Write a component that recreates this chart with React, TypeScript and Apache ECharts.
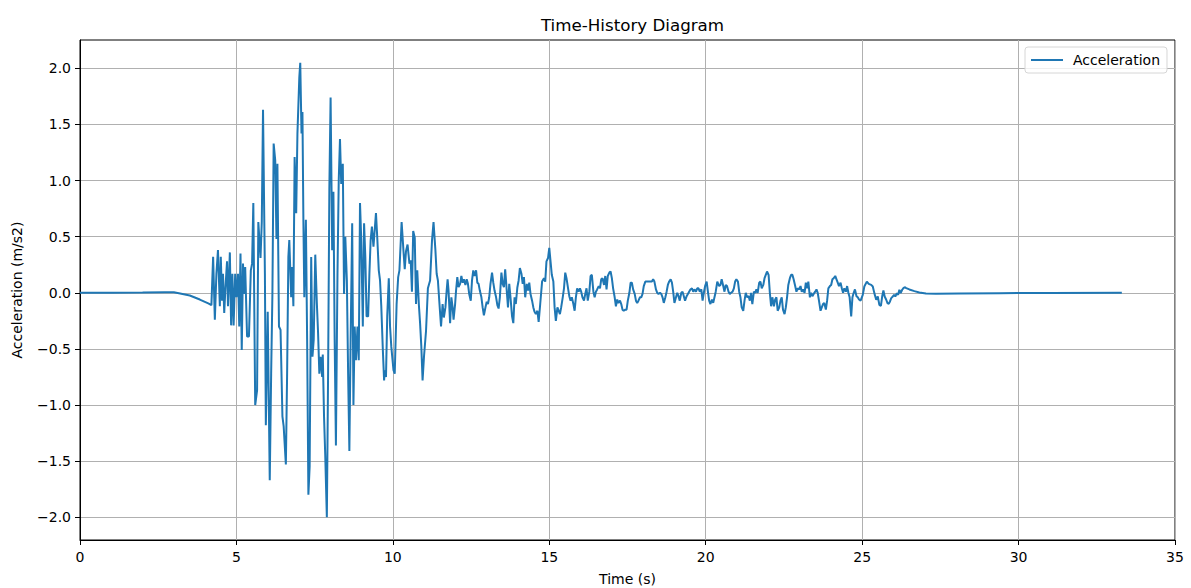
import React, { useEffect, useRef } from "react";
import * as echarts from "echarts";

const seriesName = "Acceleration";
const yTickValues = [-2, -1.5, -1, -0.5, 0, 0.5, 1, 1.5, 2];

const timesA = [
  0, 1.0, 2.0, 2.7, 3.0, 3.2, 3.51, 3.83, 4.1, 4.2, 4.255, 4.31, 4.36, 4.41, 4.47, 4.5, 4.54, 4.57, 4.61, 4.65,
  4.7, 4.73, 4.79, 4.83, 4.87, 4.91, 4.96, 5.0, 5.05, 5.09, 5.13, 5.17, 5.21, 5.24, 5.28, 5.34, 5.4, 5.46, 5.5,
  5.54, 5.6, 5.66, 5.7, 5.77, 5.81, 5.85, 5.91, 5.94, 6.0, 6.065, 6.11, 6.15, 6.19, 6.24, 6.28, 6.31, 6.36, 6.41,
  6.47, 6.51, 6.58, 6.62, 6.66, 6.69, 6.75, 6.78, 6.82, 6.86, 6.91, 6.95, 7.01, 7.04, 7.08, 7.11, 7.14, 7.17,
  7.22, 7.26, 7.3, 7.34, 7.39, 7.43, 7.47, 7.52, 7.57, 7.61, 7.65, 7.69, 7.74, 7.76, 7.8, 7.84, 7.89, 7.93, 7.97,
  8.01, 8.06, 8.1, 8.14, 8.18, 8.23, 8.27, 8.31, 8.35, 8.4, 8.44, 8.48, 8.53, 8.57, 8.61, 8.65, 8.7, 8.74, 8.78,
  8.82, 8.87, 8.91, 8.95, 8.99, 9.04, 9.08, 9.12, 9.16, 9.21, 9.25, 9.29, 9.33, 9.38, 9.42, 9.46, 9.5, 9.55, 9.59,
  9.63, 9.68, 9.72, 9.74, 9.78, 9.82, 9.87, 9.91, 9.95, 10.02, 10.06, 10.12, 10.17, 10.21, 10.28,
];
const accelA = [
  0, 0, 0.003, 0.006, 0.004, -0.006, -0.024, -0.06, -0.095, -0.11, 0.32, -0.24, 0.17, 0.38, -0.12, 0.32, -0.07,
  0.17, -0.18, 0.05, 0.28, -0.12, 0.36, -0.29, 0.17, -0.29, 0.17, -0.04, 0.17, -0.3, 0.35, -0.51, 0.26, -0.01,
  0.23, -0.39, -0.39, 0.2, 0.26, 0.8, -1.0, -0.87, 0.63, 0.31, 0.63, 1.63, 0.17, -1.18, -0.17, -1.67, -0.72,
  -0.01, 1.33, 1.18, 0.48, 1.15, -0.3, -0.33, -1.1, -1.19, -1.53, -0.72, 0.32, 0.47, -0.04, 0.23, -0.12, 1.21,
  0.71, 1.42, 1.92, 2.05, 1.42, 1.61, 0.65, -0.04, 0.65, -0.42, -1.8, -1.55, 0.32, -0.57, -0.42, 0.34, -0.09,
  -0.36, -0.72, -0.57, -0.75, -0.55, -1.1, -1.46, -2.0, -0.72, 0.92, 1.74, 0.38, 0.9, -0.42, -1.36, 0.17, 1.0,
  1.37, 0.97, 1.15, -0.01, 0.5, 0.11, -0.72, -1.41, -0.42, 0.62, -1.0, -0.3, -0.6, -0.3, -0.6, 0.8, 0.47, -0.3,
  0.62, 0.32, -0.21, -0.21, 0.17, 0.47, 0.59, 0.41, 0.56, 0.71, 0.5, 0.2, 0.11, -0.12, -0.51, -0.78, -0.69,
  -0.75, -0.21, 0.13, -0.3, -0.48, -0.69, -0.72, -0.1, 0.14, 0.2, 0.63,
];

const timesB = [
  10.34, 10.38, 10.42, 10.47, 10.53, 10.57, 10.61, 10.65, 10.7, 10.74, 10.78, 10.83, 10.87, 10.91, 10.95, 10.995,
  11.06, 11.12, 11.19, 11.25, 11.3, 11.36, 11.4, 11.44, 11.49, 11.54, 11.59, 11.63, 11.68, 11.72, 11.75, 11.78,
  11.83, 11.87, 11.91, 11.94, 11.99, 12.02, 12.06, 12.1, 12.15, 12.19, 12.23, 12.27, 12.32, 12.36, 12.4, 12.44,
  12.49, 12.53, 12.57, 12.61, 12.66, 12.7, 12.74, 12.78, 12.83, 12.87, 12.91, 12.96, 13.0, 13.04, 13.08, 13.12,
  13.17, 13.21, 13.25, 13.3, 13.34, 13.38, 13.42, 13.47, 13.51, 13.55, 13.59, 13.64, 13.68, 13.72, 13.76, 13.81,
  13.85, 13.89, 13.93, 13.98, 14.02, 14.06, 14.11, 14.15, 14.19, 14.23, 14.28, 14.32, 14.36, 14.4, 14.45, 14.49,
  14.53, 14.57, 14.62, 14.66, 14.71, 14.77, 14.83, 14.87, 14.91, 14.96, 15.0,
];
const accelB = [
  0.37, 0.21, 0.37, 0.43, 0.26, 0.29, 0.01, 0.55, 0.49, -0.1, 0.2, -0.1, -0.27, -0.48, -0.78, -0.57, -0.34, 0.04,
  0.11, 0.46, 0.63, 0.38, 0.17, 0.11, -0.1, -0.3, -0.1, -0.22, -0.13, 0.02, 0.12, 0.02, -0.27, -0.04, -0.13,
  -0.24, -0.1, 0.02, 0.14, 0.05, 0.08, 0.15, 0.09, 0.12, 0.07, 0.12, 0.08, -0.01, -0.07, 0.11, 0.2, 0.15, 0.2,
  0.09, 0.08, 0.02, -0.04, -0.13, -0.2, -0.13, -0.08, -0.1, -0.04, 0.08, 0.18, 0.09, 0.02, -0.04, -0.11, -0.14,
  -0.04, 0.18, 0.08, 0.05, 0.21, 0.02, -0.13, 0.08, -0.04, -0.21, -0.27, -0.04, -0.1, 0.05, 0.11, 0.22, 0.17,
  0.08, 0.14, -0.04, 0.08, 0.02, 0.09, -0.01, -0.07, -0.13, -0.17, -0.19, -0.16, -0.26, -0.1, 0.1, 0.13, 0.1,
  0.28, 0.31, 0.4,
];

const timesC = [
  15.04, 15.08, 15.13, 15.17, 15.21, 15.26, 15.3, 15.34, 15.38, 15.43, 15.47, 15.51, 15.55, 15.6, 15.64, 15.68,
  15.72, 15.77, 15.81, 15.85, 15.89, 15.94, 15.98, 16.02, 16.06, 16.11, 16.15, 16.19, 16.23, 16.28, 16.32, 16.36,
  16.41, 16.45, 16.49, 16.53, 16.58, 16.62, 16.66, 16.7, 16.75, 16.79, 16.83, 16.87, 16.92, 16.96, 17.0, 17.04,
  17.09, 17.13, 17.17, 17.21, 17.26, 17.3, 17.34, 17.38, 17.43, 17.47, 17.51, 17.56, 17.6, 17.64, 17.68, 17.73,
  17.77, 17.81, 17.85, 17.9, 17.94, 17.98, 18.02, 18.07, 18.11, 18.19, 18.28, 18.32, 18.36, 18.41, 18.45, 18.49,
  18.54, 18.58, 18.62, 18.66, 18.71, 18.75, 18.79, 18.83, 18.88, 18.92, 18.96, 19.0, 19.05, 19.09, 19.13, 19.17,
  19.22, 19.26, 19.3, 19.34, 19.39, 19.43, 19.47, 19.51, 19.56, 19.6, 19.64, 19.69, 19.73, 19.77, 19.81, 19.86,
  19.9, 19.94, 19.98, 20.03, 20.07, 20.11, 20.15, 20.2, 20.24, 20.28, 20.32, 20.37, 20.43,
];
const accelC = [
  0.28, 0.16, 0.1, -0.13, -0.25, -0.13, -0.16, -0.19, -0.13, -0.04, 0.04, 0.18, 0.13, 0.04, -0.03, -0.07, -0.04,
  -0.1, -0.16, -0.04, 0.04, 0.01, 0.04, 0.01, -0.04, -0.07, -0.01, 0.04, -0.07, 0.01, 0.15, 0.16, 0.01, -0.04,
  0.01, 0.03, 0.06, 0.04, 0.12, 0.13, 0.07, 0.15, 0.03, 0.15, 0.18, 0.19, 0.13, 0.04, -0.04, -0.12, -0.06, -0.09,
  -0.07, -0.1, -0.15, -0.16, -0.15, -0.15, -0.07, 0.0, 0.09, 0.09, 0.03, -0.01, -0.07, -0.09, -0.07, -0.04,
  -0.04, -0.01, 0.06, 0.1, 0.1, 0.1, 0.1, 0.12, 0.1, 0.03, 0.0, -0.01, 0.0, -0.01, -0.04, -0.09, -0.04, 0.01,
  0.07, 0.1, 0.12, 0.09, 0.01, -0.09, -0.04, 0.0, -0.03, -0.07, 0.0, 0.01, -0.03, -0.07, -0.03, -0.01, 0.01,
  0.03, 0.04, 0.01, 0.03, 0.01, 0.04, 0.04, 0.01, 0.03, -0.07, 0.0, 0.06, 0.1, 0.01, -0.07, -0.1, -0.06, -0.09,
  -0.04, 0.01, 0.1, 0.06,
];

const timesD = [
  20.47, 20.51, 20.56, 20.6, 20.64, 20.68, 20.73, 20.77, 20.81, 20.86, 20.9, 20.94, 20.98, 21.03, 21.07, 21.11,
  21.15, 21.2, 21.24, 21.28, 21.32, 21.37, 21.41, 21.45, 21.49, 21.54, 21.58, 21.62, 21.66, 21.71, 21.75, 21.79,
  21.84, 21.88, 21.92, 21.96, 22.01, 22.05, 22.09, 22.13, 22.18, 22.22, 22.26, 22.3, 22.35, 22.39, 22.43, 22.47,
  22.52, 22.56, 22.6, 22.64, 22.69, 22.73, 22.77, 22.81, 22.86, 22.9, 22.94, 22.99, 23.03, 23.07, 23.11, 23.16,
  23.2, 23.24, 23.28, 23.33, 23.37, 23.41, 23.45, 23.5, 23.54, 23.58, 23.62, 23.67, 23.71, 23.75, 23.79, 23.84,
  23.88, 23.92, 23.97, 24.01, 24.05, 24.09, 24.14, 24.18, 24.22, 24.26, 24.31, 24.35, 24.39, 24.43, 24.48, 24.52,
  24.56, 24.6, 24.65, 24.69, 24.73, 24.77, 24.82, 24.86, 24.9, 24.95, 24.99,
];
const accelD = [
  0.07, 0.12, 0.06, 0.01, 0.07, 0.06, 0.01, -0.01, 0.0, 0.01, 0.04, 0.1, 0.12, 0.1, 0.01, -0.04, -0.13, -0.16,
  -0.07, 0.0, -0.04, -0.03, -0.07, 0.0, -0.1, 0.01, 0.0, 0.03, 0.0, 0.09, 0.1, 0.04, 0.07, 0.13, 0.16, 0.19,
  0.16, 0.0, -0.12, -0.04, -0.12, -0.06, -0.04, -0.16, -0.13, -0.07, -0.04, -0.15, -0.19, -0.13, -0.04, 0.07,
  0.13, 0.16, 0.16, 0.12, 0.06, 0.01, 0.04, 0.03, 0.06, 0.01, 0.03, 0.0, 0.09, 0.04, 0.1, -0.04, 0.0, -0.03,
  -0.01, 0.01, 0.03, 0.0, -0.07, -0.16, -0.13, -0.1, -0.09, -0.15, -0.07, 0.04, 0.06, 0.07, 0.12, 0.13, 0.15,
  0.12, 0.09, 0.06, 0.09, 0.04, 0.0, 0.04, 0.01, 0.06, 0.0, -0.04, -0.21, -0.04, 0.0, 0.03, -0.03, -0.04, -0.06,
  -0.07, -0.04,
];

const timesE = [
  25.02, 25.07, 25.15, 25.21, 25.29, 25.34, 25.39, 25.45, 25.5, 25.55, 25.6, 25.64, 25.68, 25.72, 25.77, 25.81,
  25.85, 25.89, 25.93, 25.98, 26.02, 26.06, 26.11, 26.15, 26.19, 26.23, 26.28, 26.32, 26.36, 26.41, 26.51, 26.67,
  26.83, 27.04, 27.36, 28.1, 29.4, 31.0, 33.3,
];
const accelE = [
  -0.018, 0.056, 0.1, 0.08, 0.071, 0.056, -0.003, -0.062, -0.033, -0.107, -0.116, -0.033, 0.021, -0.033, -0.062,
  -0.092, -0.098, -0.077, -0.047, -0.033, -0.018, -0.033, -0.003, -0.018, 0.027, -0.003, 0.027, 0.042, 0.05,
  0.042, 0.03, 0.015, 0.003, -0.006, -0.009, -0.006, -0.003, -0.001, 0.0,
];

const times = [...timesA, ...timesB, ...timesC, ...timesD, ...timesE];
const accel = [...accelA, ...accelB, ...accelC, ...accelD, ...accelE];

const FONT = "DejaVu Sans";

export default function App() {
  const ref = useRef<HTMLDivElement>(null);
  useEffect(() => {
    document.body.style.margin = "0";
    if (!ref.current) return;
    const chart = echarts.init(ref.current, null, { renderer: "svg" });
    const data = times.map((t, i) => [t, accel[i]]);
    chart.setOption({
      animation: false,
      backgroundColor: "#ffffff",
      textStyle: { fontFamily: FONT },
      title: {
        text: "Time-History Diagram",
        left: 627.5,
        textAlign: "center",
        top: 11,
        textStyle: { fontFamily: FONT, fontSize: 16.7, fontWeight: "normal", color: "#000" },
      },
      legend: {
        data: [{ name: seriesName, icon: "rect" }],
        right: 24,
        top: 47,
        orient: "vertical",
        itemWidth: 32,
        itemHeight: 2,
        padding: [6, 7, 6, 6],
        borderColor: "#d6d6d6",
        borderWidth: 1,
        borderRadius: 3,
        backgroundColor: "rgba(255,255,255,0.8)",
        textStyle: { fontFamily: FONT, fontSize: 14, color: "#000", padding: [0, 0, 0, 5] },
      },
      grid: {
        left: 80,
        right: 16,
        top: 40,
        bottom: 48,
        show: true,
        borderColor: "#000",
        borderWidth: 1,
        backgroundColor: "transparent",
        containLabel: false,
        outerBoundsMode: "none",
      },
      xAxis: {
        type: "value",
        min: 0,
        max: 35,
        interval: 5,
        name: "Time (s)",
        nameLocation: "middle",
        nameGap: 32,
        nameTextStyle: { fontFamily: FONT, fontSize: 14, color: "#000" },
        axisLine: { show: true, onZero: false, lineStyle: { color: "#000", width: 1 } },
        axisTick: { show: true, length: 5, lineStyle: { color: "#000", width: 1 } },
        axisLabel: { margin: 10, fontFamily: FONT, fontSize: 14, color: "#000" },
        splitLine: { show: true, lineStyle: { color: "#b0b0b0", width: 1 } },
      },
      yAxis: {
        type: "value",
        min: -2.2025,
        max: 2.2525,
        name: "Acceleration (m/s2)",
        nameLocation: "middle",
        nameGap: 56,
        nameTextStyle: { fontFamily: FONT, fontSize: 14, color: "#000" },
        axisLine: { show: true, onZero: false, lineStyle: { color: "#000", width: 1 } },
        axisTick: {
          show: true,
          length: 5,
          customValues: yTickValues,
          lineStyle: { color: "#000", width: 1 },
        },
        axisLabel: {
          margin: 9,
          customValues: yTickValues,
          fontFamily: FONT,
          fontSize: 14,
          color: "#000",
          formatter: (v: number) => (v < 0 ? "\u2212" : "") + Math.abs(v).toFixed(1),
        },
        splitLine: { show: true, lineStyle: { color: "#b0b0b0", width: 1 } },
      },
      series: [
        {
          name: seriesName,
          type: "line",
          data,
          symbol: "none",
          showSymbol: false,
          lineStyle: { color: "#1f77b4", width: 2 },
          itemStyle: { color: "#1f77b4" },
        },
      ],
    });
    return () => chart.dispose();
  }, []);
  return <div ref={ref} style={{ width: 1191, height: 588 }} />;
}
